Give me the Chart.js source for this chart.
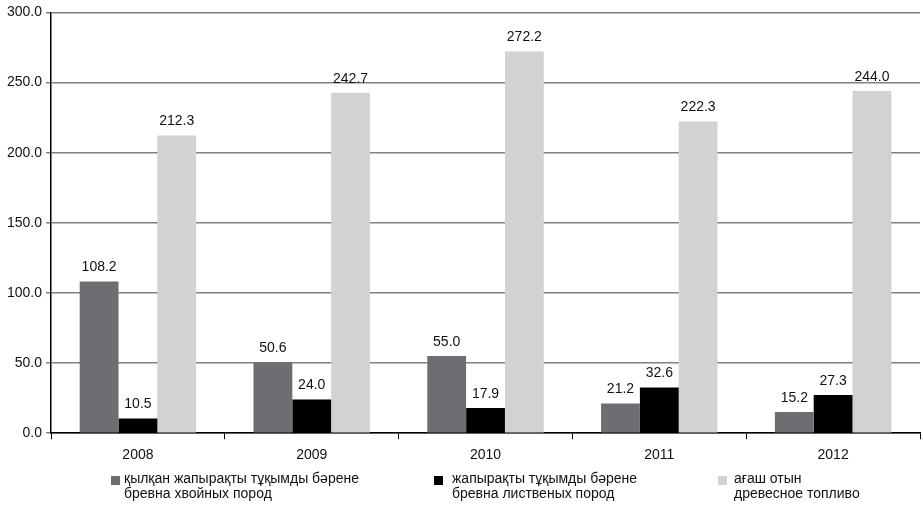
<!DOCTYPE html>
<html>
<head>
<meta charset="utf-8">
<script src="https://cdn.jsdelivr.net/npm/chart.js@4.4.0/dist/chart.umd.min.js"></script>
<style>
    html, body { margin: 0; padding: 0; background: #fff; }
    #wrap { position: relative; width: 923px; height: 505px; }
    #legend { position: absolute; left: 0; top: 470px; width: 923px; height: 35px;
              font-family: 'Liberation Sans', Arial, sans-serif; font-size: 14px; color: #111; }
    .item { position: absolute; top: 0; line-height: 15px; }
    .box { position: absolute; left: 0; top: 6px; width: 9px; height: 9px; }
    .txt { position: absolute; top: 1px; white-space: nowrap; }
</style>
</head>
<body>
<div id="wrap">
    <canvas id="woodChart" width="923" height="505"></canvas>
    <div id="legend"></div>
</div>
<script>
// years on the x axis
const years = ['2008', '2009', '2010', '2011', '2012'];

// values per series
const coniferous = [108.2, 50.6, 55.0, 21.2, 15.2];
const deciduous = [10.5, 24.0, 17.9, 32.6, 27.3];
const firewood = [212.3, 242.7, 272.2, 222.3, 244.0];

const seriesLabels = [
    ['қылқан жапырақты тұқымды бәрене', 'бревна хвойных пород'],
    ['жапырақты тұқымды бәрене', 'бревна лиственых пород'],
    ['ағаш отын', 'древесное топливо']
];

const yTicks = [0, 50, 100, 150, 200, 250, 300];

const fontFamily = "'Liberation Sans', Arial, sans-serif";

// values written above each bar
const barValuesPlugin = {
    id: 'barValues',
    afterDatasetsDraw(chart) {
        const ctx = chart.ctx;
        ctx.save();
        ctx.font = '14px ' + fontFamily;
        ctx.fillStyle = '#111';
        ctx.textAlign = 'center';
        ctx.textBaseline = 'bottom';
        chart.data.datasets.forEach((ds, i) => {
            const meta = chart.getDatasetMeta(i);
            meta.data.forEach((bar, j) => {
                ctx.fillText(ds.data[j].toFixed(1), bar.x, bar.y - 7);
            });
        });
        ctx.restore();
    }
};

const ctx = document.getElementById('woodChart');
const chart = new Chart(ctx, {
    type: 'bar',
    data: {
        labels: years,
        datasets: [{
            label: seriesLabels[0],
            data: coniferous,
            backgroundColor: '#6d6e71'
        }, {
            label: seriesLabels[1],
            data: deciduous,
            backgroundColor: '#000000'
        }, {
            label: seriesLabels[2],
            data: firewood,
            backgroundColor: '#d1d2d4'
        }]
    },
    options: {
        responsive: false,
        animation: false,
        devicePixelRatio: 1,
        layout: { padding: { left: 3, right: 3, top: 0, bottom: 33 } },
        datasets: {
            bar: { barPercentage: 1.0, categoryPercentage: 0.67 }
        },
        plugins: {
            legend: { display: false },
            tooltip: { enabled: false }
        },
        scales: {
            x: {
                grid: {
                    offset: true,
                    drawOnChartArea: false,
                    drawTicks: true,
                    tickLength: 6,
                    color: '#000'
                },
                border: { color: '#000', width: 1.5 },
                ticks: {
                    padding: 8,
                    color: '#111',
                    font: { family: fontFamily, size: 14 }
                }
            },
            y: {
                min: 0,
                max: 300,
                afterBuildTicks(axis) {
                    axis.ticks = yTicks.map(v => ({ value: v }));
                },
                grid: {
                    color: '#808080',
                    lineWidth: 1.5,
                    tickLength: 5
                },
                border: { color: '#000', width: 1.5 },
                ticks: {
                    padding: 4,
                    color: '#111',
                    font: { family: fontFamily, size: 14 },
                    callback: v => v.toFixed(1)
                }
            }
        }
    },
    plugins: [barValuesPlugin]
});

// legend in three columns with two-line labels
const legendLeft = [111, 434, 718];
const textOffset = [13, 18, 16];
const legendEl = document.getElementById('legend');
chart.data.datasets.forEach((ds, i) => {
    const item = document.createElement('div');
    item.className = 'item';
    item.style.left = legendLeft[i] + 'px';
    const box = document.createElement('div');
    box.className = 'box';
    box.style.background = ds.backgroundColor;
    const txt = document.createElement('div');
    txt.className = 'txt';
    txt.style.left = textOffset[i] + 'px';
    txt.innerHTML = ds.label.join('<br>');
    item.appendChild(box);
    item.appendChild(txt);
    legendEl.appendChild(item);
});
</script>
</body>
</html>
